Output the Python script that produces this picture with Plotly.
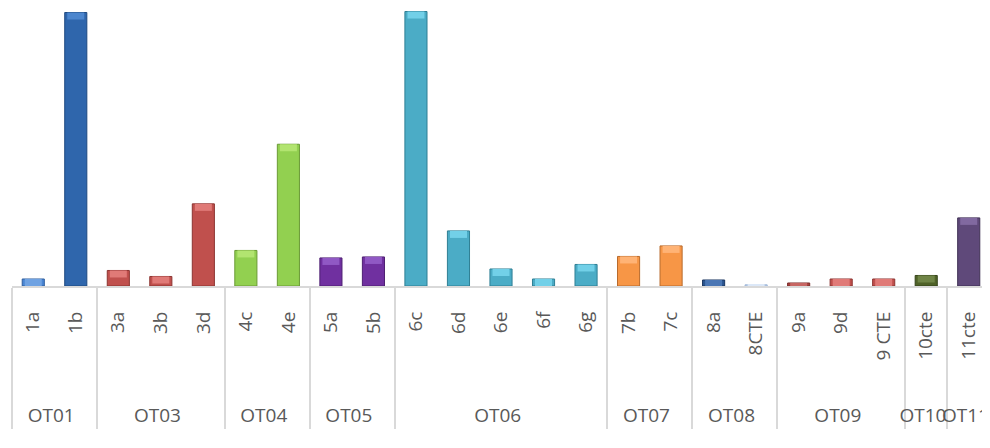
import plotly.graph_objects as go

groups = ["OT01", "OT01", "OT03", "OT03", "OT03", "OT04", "OT04", "OT05", "OT05",
          "OT06", "OT06", "OT06", "OT06", "OT06", "OT07", "OT07", "OT08", "OT08",
          "OT09", "OT09", "OT09", "OT10", "OT11"]
codes = ["1a", "1b", "3a", "3b", "3d", "4c", "4e", "5a", "5b",
         "6c", "6d", "6e", "6f", "6g", "7b", "7c", "8a", "8CTE",
         "9a", "9d", "9 CTE", "10cte", "11cte"]
values = [7, 273, 15.5, 9.5, 82, 35.5, 141.5, 28, 29,
          274, 55, 17, 7, 21.5, 29.5, 40, 6, 1.2,
          3, 7, 7, 10.5, 68]
colors = ["#4A86D4", "#2F66AC", "#C0504D", "#C0504D", "#C0504D", "#92D050", "#92D050",
          "#7030A0", "#7030A0", "#4BACC6", "#4BACC6", "#4BACC6", "#4BACC6", "#4BACC6",
          "#F79646", "#F79646", "#2A5590", "#C6D9F1", "#A9403D", "#C0504D", "#C0504D",
          "#4F6228", "#5F497A"]
edges = ["#2F5E9E", "#1F4A80", "#8C3431", "#8C3431", "#8C3431", "#6A9A35", "#6A9A35",
         "#4E1F72", "#4E1F72", "#2F7F94", "#2F7F94", "#2F7F94", "#2F7F94", "#2F7F94",
         "#B86A2C", "#B86A2C", "#1A3660", "#9DB5D6", "#7A2C2A", "#8C3431", "#8C3431",
         "#35431A", "#3F3054"]
highlights = ["#6FA2E2", "#4C86CE", "#E07A77", "#E07A77", "#E07A77", "#B2E470", "#B2E470",
              "#9058C4", "#9058C4", "#72D0E8", "#72D0E8", "#72D0E8", "#72D0E8", "#72D0E8",
              "#FFB375", "#FFB375", "#4A76B4", "#DCE8F8", "#C76663", "#E07A77", "#E07A77",
              "#6F8446", "#8169A0"]

# pad inner labels so the group row sits lower (leading non-breaking spaces)
pad = "\u00a0" * 8
codes_lbl = [pad + c for c in codes]

bevel = [min(v, 7) for v in values]
bevel_base = [v - b for v, b in zip(values, bevel)]

fig = go.Figure()
fig.add_trace(go.Bar(
    x=[groups, codes_lbl], y=values,
    marker=dict(color=colors, line=dict(color=edges, width=1)),
    width=0.52, showlegend=False, hoverinfo="skip",
))
fig.add_trace(go.Bar(
    x=[groups, codes_lbl], y=bevel, base=bevel_base,
    marker=dict(color=highlights, line=dict(width=0)),
    width=0.40, showlegend=False, hoverinfo="skip",
))

fig.update_layout(
    width=982, height=440,
    margin=dict(l=4, r=0, t=2, b=162),
    plot_bgcolor="white", paper_bgcolor="white",
    font=dict(family="Open Sans", size=19, color="#595959"),
    barmode="overlay",
)
fig.update_xaxes(
    type="multicategory", tickangle=-90,
    showline=True, linecolor="#D9D9D9", linewidth=2,
    showdividers=True, dividercolor="#D9D9D9", dividerwidth=2,
    showgrid=False, ticks="", automargin=False, ticklabelstandoff=16,
)
fig.update_yaxes(visible=False, range=[0, 275.5], showgrid=False, zeroline=False)

fig.write_html("out.html")
